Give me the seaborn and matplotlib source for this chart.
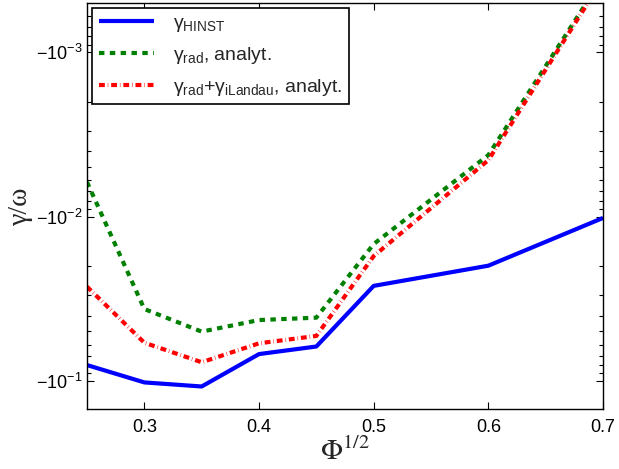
import numpy as np
import pandas as pd
import matplotlib
matplotlib.use("Agg")
import matplotlib.pyplot as plt
import seaborn as sns
from matplotlib.ticker import FixedLocator, FuncFormatter, NullFormatter

# ---- data ----
phi_sqrt = [0.25, 0.30, 0.35, 0.40, 0.45, 0.50, 0.60, 0.70]
gamma_hinst = [-0.080, -0.102, -0.108, -0.0686, -0.0617, -0.0264, -0.0199, -0.0102]
gamma_rad = [-0.00617, -0.0365, -0.0501, -0.0426, -0.0412, -0.0147, -0.00423, -0.00035]
gamma_rad_landau = [-0.0267, -0.0585, -0.0769, -0.059, -0.0532, -0.0174, -0.00454, -0.00036]
labels = ['γ$_{\\mathrm{HINST}}$',
          'γ$_{\\mathrm{rad}}$, analyt.',
          'γ$_{\\mathrm{rad}}$+γ$_{\\mathrm{iLandau}}$, analyt.']
major_ticks = [-1e-3, -1e-2, -1e-1]
x_ticks = [0.3, 0.4, 0.5, 0.6, 0.7]

sns.set_style("ticks")
plt.rcParams['font.family'] = ['Liberation Sans', 'DejaVu Sans']
plt.rcParams['mathtext.fontset'] = 'custom'
plt.rcParams['mathtext.rm'] = 'Liberation Sans'
plt.rcParams['mathtext.it'] = 'Liberation Sans:italic'

fig = plt.figure(figsize=(6.19, 4.69), dpi=100)
ax = fig.add_axes([87/619, 60/469, (603-87)/619, (409-3)/469])

df = pd.DataFrame({"x": phi_sqrt, "hinst": gamma_hinst, "rad": gamma_rad, "radl": gamma_rad_landau})

sns.lineplot(data=df, x="x", y="hinst", ax=ax, color="#0000ff", lw=3.0,
             label=labels[0], solid_capstyle="butt")
sns.lineplot(data=df, x="x", y="rad", ax=ax, color="#008000", lw=3.0,
             linestyle=(0, (1.3, 1.3)), label=labels[1])
sns.lineplot(data=df, x="x", y="radl", ax=ax, color="#ff0000", lw=3.0,
             linestyle=(0, (1.4, 0.7, 0.12, 0.7)), label=labels[2])

fwd = lambda y: -np.log10(np.abs(y) + 1e-300)
inv = lambda t: -10.0 ** (-t)
ax.set_yscale('function', functions=(fwd, inv))
ax.set_ylim(-0.148, -5.03e-4)
ax.set_xlim(0.25, 0.7)

ax.yaxis.set_major_locator(FixedLocator(major_ticks))
ax.yaxis.set_major_formatter(FuncFormatter(
    lambda v, p: r'$-10^{%d}$' % int(round(np.log10(-v))) if v < 0 else ''))
minor = []
for dec in [1e-4, 1e-3, 1e-2, 1e-1]:
    for k in range(2, 10):
        minor.append(-k * dec)
ax.yaxis.set_minor_locator(FixedLocator(minor))
ax.yaxis.set_minor_formatter(NullFormatter())
ax.xaxis.set_major_locator(FixedLocator(x_ticks))
ax.xaxis.set_major_formatter(FuncFormatter(lambda v, p: '%.1f' % v))

ax.tick_params(axis='both', which='both', direction='in', top=True, right=True,
               labelsize=13, colors='black', width=0.8)
ax.tick_params(axis='x', which='major', pad=7)
ax.tick_params(which='major', length=5)
ax.tick_params(which='minor', length=3)
for s in ax.spines.values():
    s.set_visible(True)
    s.set_linewidth(1.0)
    s.set_color('black')

ax.set_xlabel(r'$\Phi^{1/2}$', fontsize=21, labelpad=1)
ax.xaxis.label.set_math_fontfamily('stix')
ax.set_ylabel('γ/ω', fontsize=20, labelpad=2, family=['Liberation Serif', 'DejaVu Serif'])

leg = ax.legend(loc='upper left', bbox_to_anchor=(0.0105, 0.988), fontsize=14,
                frameon=True, fancybox=False, framealpha=1, edgecolor='black',
                handlelength=2.8, borderpad=0.35, labelspacing=0.55, handletextpad=1.0,
                borderaxespad=0)
leg.get_frame().set_linewidth(1.2)

fig.savefig("out.png", dpi=100)
